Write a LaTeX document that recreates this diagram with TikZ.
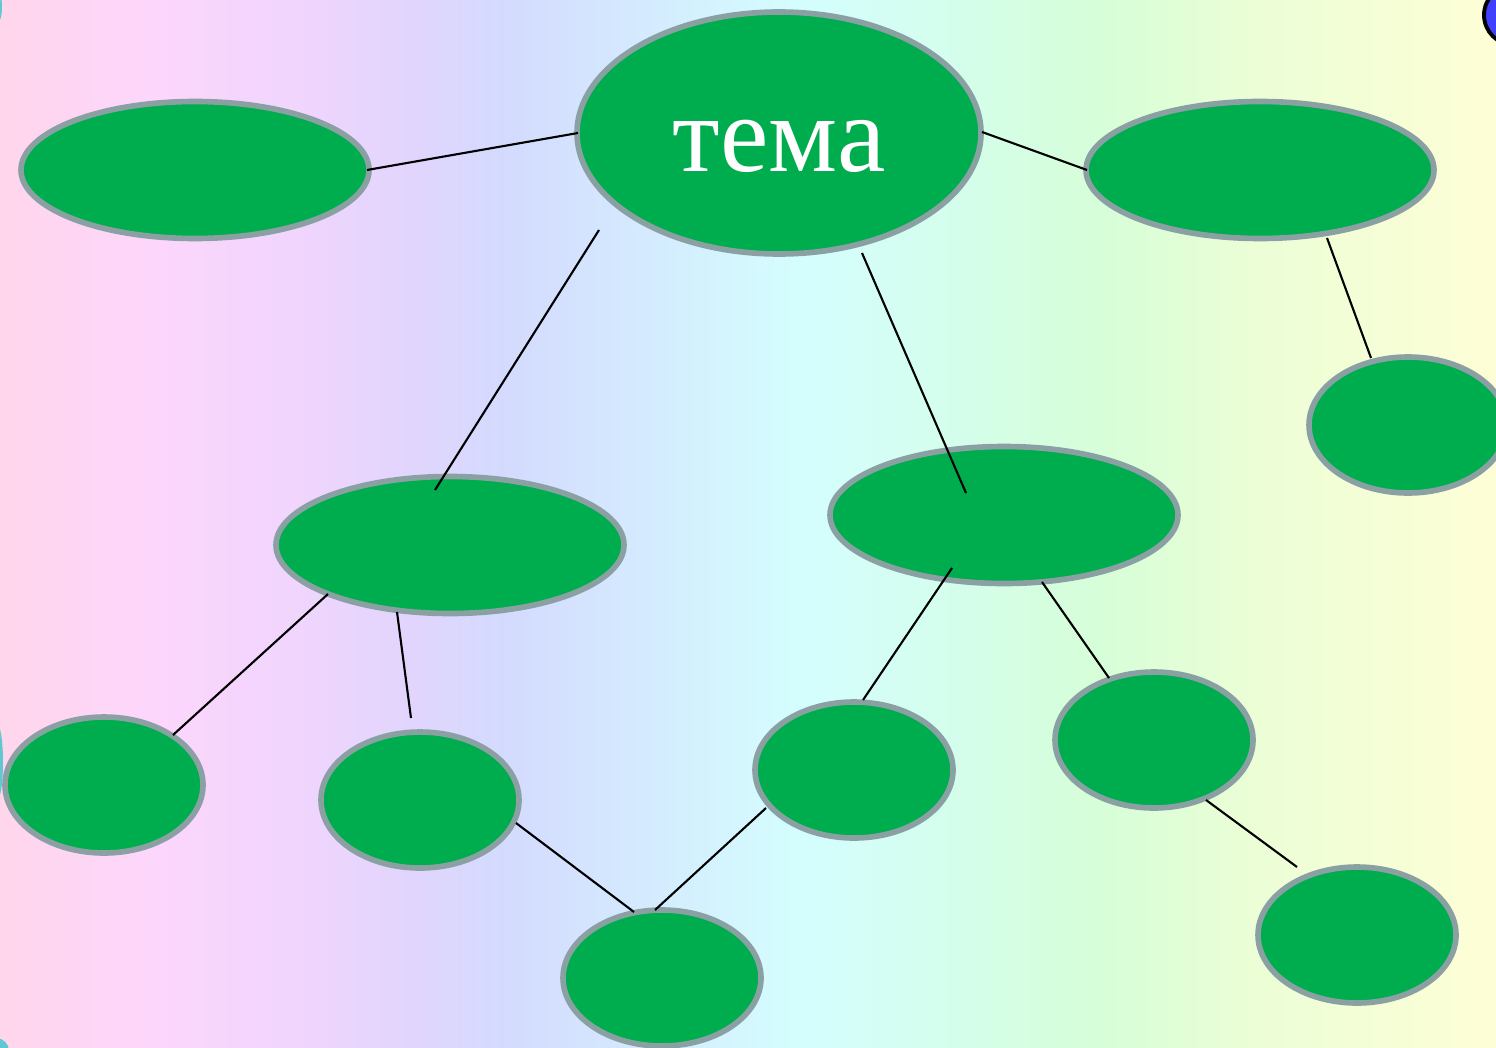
\documentclass[tikz,border=0pt]{standalone}
\usepackage{fontspec}
\newfontfamily\temafont{Liberation Serif}
\usetikzlibrary{shapes.geometric,calc}
\definecolor{BubbleGreen}{RGB}{0,173,78}
\definecolor{BubbleRim}{RGB}{138,160,163}
\definecolor{bg0}{RGB}{255,214,235}
\definecolor{bg1}{RGB}{253,214,252}
\definecolor{bg2}{RGB}{240,213,253}
\definecolor{bg3}{RGB}{224,213,253}
\definecolor{bg4}{RGB}{212,218,254}
\definecolor{bg5}{RGB}{212,235,254}
\definecolor{bg6}{RGB}{212,254,254}
\definecolor{bg7}{RGB}{212,254,236}
\definecolor{bg8}{RGB}{214,254,216}
\definecolor{bg9}{RGB}{235,254,214}
\definecolor{bg10}{RGB}{254,254,214}
\definecolor{EdgeTeal}{RGB}{95,200,210}
\definecolor{DotBlue}{RGB}{64,64,255}
\tikzset{
  bubble/.style={
    ellipse,
    fill=BubbleGreen,
    draw=BubbleRim,
    line width=1.6pt,
    inner sep=0pt,
  },
  big bubble/.style={
    bubble,
    minimum width=4.04cm,
    minimum height=2.42cm,
  },
  mid bubble/.style={
    bubble,
    minimum width=3.48cm,
    minimum height=1.37cm,
  },
  small bubble/.style={
    bubble,
    minimum width=1.98cm,
    minimum height=1.36cm,
  },
  link/.style={
    draw,
    black,
    line width=0.6pt,
  },
  topic text/.style={
    text=white,
    font=\temafont\fontsize{31}{31}\selectfont,
    inner sep=0pt,
  },
}

\begin{document}
\begin{tikzpicture}
  \useasboundingbox (0,0) rectangle (14.96,10.47);
  \clip (0,0) rectangle (14.96,10.47);
  % background
  \foreach \xa/\xb/\ca/\cb in {0/1.5/bg0/bg1, 1.5/3/bg1/bg2, 3/4.2/bg2/bg3,
      4.2/5/bg3/bg4, 5/6.5/bg4/bg5, 6.5/8/bg5/bg6, 8/9.5/bg6/bg7,
      9.5/11/bg7/bg8, 11/12.5/bg8/bg9, 12.5/14.96/bg9/bg10}
    \fill[left color=\ca, right color=\cb] (\xa,0) rectangle ([xshift=0.01cm]\xb,10.47);
  % bits at the edges
  \fill[EdgeTeal] (-0.03,2.85) ellipse (0.06 and 0.38);
  \fill[EdgeTeal] (-0.04,-0.04) circle (0.13);
  \fill[EdgeTeal] (-0.02,10.4) ellipse (0.04 and 0.15);
  \filldraw[fill=DotBlue, draw=black, line width=1.1pt] (15.14,10.32) circle (0.3);

  % bubbles
  \node[big bubble] (theme) at (7.79,9.14) {};
  \node[topic text] (themelabel) at ([yshift=-0.13cm]theme.center) {тема};
  \node[mid bubble] (tl) at (1.95,8.77) {};
  \node[mid bubble] (tr) at (12.60,8.77) {};
  \node[small bubble] (rs) at (14.08,6.22) {};
  \node[mid bubble] (ml) at (4.50,5.02) {};
  \node[mid bubble] (mr) at (10.04,5.32) {};
  \node[small bubble] (bl1) at (1.04,2.62) {};
  \node[small bubble] (bl2) at (4.20,2.47) {};
  \node[small bubble] (bc) at (6.62,0.69) {};
  \node[small bubble] (cr) at (8.54,2.77) {};
  \node[small bubble] (rr) at (11.54,3.07) {};
  \node[small bubble] (br) at (13.57,1.12) {};

  % links
  \draw[link] ($(tl)+(1.72,0)$) -- ($(theme)+(-2.01,0)$);
  \draw[link] ($(theme)+(2.03,0.01)$) -- ($(tr)+(-1.73,0)$);
  \draw[link] ($(tr)+(0.67,-0.68)$) -- ($(rs)+(-0.37,0.67)$);
  \draw[link] ($(theme)+(-1.80,-0.97)$) -- ($(ml)+(-0.15,0.55)$);
  \draw[link] ($(theme)+(0.83,-1.20)$) -- ($(mr)+(-0.38,0.22)$);
  \draw[link] ($(ml)+(-1.22,-0.49)$) -- ($(bl1)+(0.69,0.50)$);
  \draw[link] ($(ml)+(-0.53,-0.67)$) -- ($(bl2)+(-0.09,0.82)$);
  \draw[link] ($(bl2)+(0.96,-0.23)$) -- ($(bc)+(-0.28,0.66)$);
  \draw[link] ($(bc)+(-0.07,0.68)$) -- ($(cr)+(-0.88,-0.38)$);
  \draw[link] ($(mr)+(-0.52,-0.53)$) -- ($(cr)+(0.09,0.70)$);
  \draw[link] ($(mr)+(0.38,-0.67)$) -- ($(rr)+(-0.45,0.62)$);
  \draw[link] ($(rr)+(0.52,-0.60)$) -- ($(br)+(-0.60,0.68)$);
\end{tikzpicture}
\end{document}
